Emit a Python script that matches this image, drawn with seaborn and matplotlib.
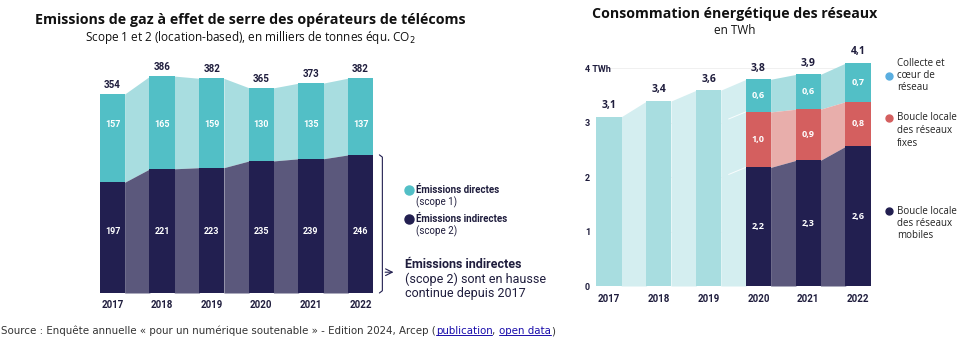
import matplotlib
matplotlib.use("Agg")
import matplotlib.pyplot as plt
from matplotlib.lines import Line2D
import seaborn as sns
import pandas as pd

sns.set_theme(style="white")
plt.rcParams["font.family"] = ["Open Sans", "DejaVu Sans"]

# ---- data -------------------------------------------------------------
years = ["2017", "2018", "2019", "2020", "2021", "2022"]

# GHG emissions, thousand tonnes CO2e
ghg_scope2 = [197.0, 221.0, 223.0, 235.0, 238.8, 245.8]
ghg_scope1 = [157.0, 165.0, 159.0, 130.0, 134.6, 136.6]

# Network energy consumption, TWh
energy_total_early = [3.11, 3.40, 3.60]           # 2017-2019, no breakdown
energy_mobile = [None, None, None, 2.18, 2.31, 2.57]
energy_fixed = [None, None, None, 1.02, 0.94, 0.82]
energy_core = [None, None, None, 0.60, 0.64, 0.71]

energy_ticks = [0, 1, 2, 3, 4]
energy_tick_labels = ["0", "1", "2", "3", "4 TWh"]

# ---- colours ----------------------------------------------------------
NAVY = "#221f50"
NAVY_LINK = "#5b587c"
TEAL = "#52bfc6"
TEAL_LIGHT = "#a8dde0"
TEAL_PALE = "#d4eef0"
RED = "#d45f5f"
RED_LINK = "#e8aeab"
BLUE_DOT = "#5aaee0"
TEXT = "#1f1d3d"

W, H = 970, 340
fig = plt.figure(figsize=(W / 100, H / 100), dpi=100)
fig.patch.set_facecolor("white")


def add_axes_px(left, top, right, bottom):
    return fig.add_axes([left / W, 1 - bottom / H, (right - left) / W, (bottom - top) / H])


def fx(x):
    return x / W


def fy(y):
    return 1 - y / H


BAR_W = 0.51
SEAM = 0.01  # connectors tuck slightly under the bars to avoid hairline gaps
COND = ["Roboto", "DejaVu Sans"]


def connectors(ax, lower, upper, color):
    """Fill the gap between consecutive bars, joining their edges."""
    for i in range(len(upper) - 1):
        vals = (lower[i], lower[i + 1], upper[i], upper[i + 1])
        if any(v is None for v in vals):
            continue
        xs = [i + BAR_W / 2 - SEAM, i + 1 - BAR_W / 2 + SEAM]
        ax.fill_between(xs, [lower[i], lower[i + 1]], [upper[i], upper[i + 1]],
                        color=color, linewidth=0, zorder=1)


# =======================================================================
# Left: greenhouse-gas emissions
# =======================================================================
axl = add_axes_px(82.7, 68.2, 390.3, 293)
ghg_total = [a + b for a, b in zip(ghg_scope1, ghg_scope2)]
df_ghg = pd.DataFrame({"year": years, "total": ghg_total, "scope2": ghg_scope2})

sns.barplot(data=df_ghg, x="year", y="total", order=years, color=TEAL,
            width=BAR_W, saturation=1, linewidth=0, ax=axl, zorder=2)
sns.barplot(data=df_ghg, x="year", y="scope2", order=years, color=NAVY,
            width=BAR_W, saturation=1, linewidth=0, ax=axl, zorder=3)

connectors(axl, ghg_scope2, ghg_total, TEAL_LIGHT)
connectors(axl, [0] * 6, ghg_scope2, NAVY_LINK)

axl.set_xlim(-0.6, 5.6)
axl.set_ylim(0, 400)
for i in range(len(years)):
    axl.annotate(f"{ghg_total[i]:.0f}", (i, ghg_total[i]), xytext=(0, 6.5),
                 textcoords="offset points", ha="center", va="center",
                 fontsize=7, fontweight="bold", color=TEXT, family=COND)
    axl.text(i, 299, f"{ghg_scope1[i]:.0f}", ha="center", va="center",
             fontsize=6.5, fontweight="bold", color="white", family=COND, zorder=5)
    axl.text(i, 110, f"{ghg_scope2[i]:.0f}", ha="center", va="center",
             fontsize=6.5, fontweight="bold", color="white", family=COND, zorder=5)

axl.set_xlabel("")
axl.set_ylabel("")
axl.set_yticks([])
axl.set_xticks(range(len(years)))
axl.set_xticklabels(years, fontsize=7, fontweight="bold", color=TEXT, family=COND)
axl.tick_params(axis="x", length=0, pad=5)
sns.despine(ax=axl, left=True, bottom=True)

# bracket over the scope-2 range with an arrow to the comment
bx, hook = 5.44, 0.06
top2 = ghg_scope2[-1]
axl.plot([bx - hook, bx, bx, bx - hook], [top2, top2 - 4, 4, 0],
         color=NAVY, lw=0.8, clip_on=False, solid_capstyle="round")
axl.annotate("", xy=(5.72, 37), xytext=(bx, 37), xycoords="data",
             arrowprops=dict(arrowstyle="->", color=NAVY, lw=0.8), annotation_clip=False)

fig.text(fx(250), fy(20), "Emissions de gaz à effet de serre des opérateurs de télécoms",
         ha="center", va="center", fontsize=10.3, fontweight="bold", color="#111111")
fig.text(fx(250), fy(37), "Scope 1 et 2 (location-based), en milliers de tonnes équ. CO$_2$",
         ha="center", va="center", fontsize=8.5, color="#111111")

# legend
leg_items = [(TEAL, "Émissions directes", "(scope 1)", 190),
             (NAVY, "Émissions indirectes", "(scope 2)", 219)]
for col, l1, l2, y in leg_items:
    fig.add_artist(Line2D([fx(409)], [fy(y)], marker="o", markersize=6.5,
                          color=col, linestyle="none"))
    fig.text(fx(416), fy(y), l1, ha="left", va="center", fontsize=7,
             fontweight="bold", color=TEXT, family=COND)
    fig.text(fx(416), fy(y + 12), l2, ha="left", va="center", fontsize=7,
             color=TEXT, family=COND)

fig.text(fx(405), fy(264), "Émissions indirectes", ha="left", va="center",
         fontsize=9, fontweight="bold", color=TEXT, family=COND)
fig.text(fx(405), fy(279), "(scope 2) sont en hausse", ha="left", va="center",
         fontsize=9, color=TEXT, family=COND)
fig.text(fx(405), fy(293), "continue depuis 2017", ha="left", va="center",
         fontsize=9, color=TEXT, family=COND)

# =======================================================================
# Right: network energy consumption
# =======================================================================
axr = add_axes_px(579.1, 41.2, 887.9, 286)

split_low = [None] * 3 + [m for m in energy_mobile[3:]]
split_mid = [None] * 3 + [m + f for m, f in zip(energy_mobile[3:], energy_fixed[3:])]
energy_total = energy_total_early + [m + f + c for m, f, c in
                                     zip(energy_mobile[3:], energy_fixed[3:], energy_core[3:])]

df_en = pd.DataFrame({"year": years, "total": energy_total,
                      "mid": [v if v is not None else 0 for v in split_mid],
                      "low": [v if v is not None else 0 for v in split_low]})
top_colors = {y: (TEAL_LIGHT if k < 3 else TEAL) for k, y in enumerate(years)}

sns.barplot(data=df_en, x="year", y="total", order=years, hue="year",
            palette=top_colors, legend=False, width=BAR_W, saturation=1,
            linewidth=0, ax=axr, zorder=2)
sns.barplot(data=df_en, x="year", y="mid", order=years, color=RED,
            width=BAR_W, saturation=1, linewidth=0, ax=axr, zorder=3)
sns.barplot(data=df_en, x="year", y="low", order=years, color=NAVY,
            width=BAR_W, saturation=1, linewidth=0, ax=axr, zorder=4)

# connectors: pale where there is no breakdown, layered afterwards
for i in range(len(years) - 1):
    xs = [i + BAR_W / 2 - SEAM, i + 1 - BAR_W / 2 + SEAM]
    if split_low[i] is None:
        axr.fill_between(xs, [0, 0], [energy_total[i], energy_total[i + 1]],
                         color=TEAL_PALE, linewidth=0, zorder=1)
connectors(axr, split_mid, energy_total, TEAL_LIGHT)
connectors(axr, split_low, split_mid, RED_LINK)
connectors(axr, [0] * 6, split_low, NAVY_LINK)

# faint guide strokes leading into the first split bar
gx0 = 2 + BAR_W / 2 + 0.3 * (1 - BAR_W)
gx1 = 3 - BAR_W / 2
for level in (split_low[3], split_mid[3]):
    axr.plot([gx0, gx1], [level - 0.13, level], color="white", lw=0.7,
             alpha=0.85, zorder=2)

# light horizontal guides, only across the bar area
axr.hlines([t for t in energy_ticks if t > 0], -0.2, 5, color="#eeeeee",
           lw=0.6, zorder=0)

axr.set_xlim(-0.6, 5.6)
axr.set_ylim(0, 4.5)


def fmt(v):
    return f"{v:.1f}".replace(".", ",")


for i in range(len(years)):
    axr.annotate(fmt(energy_total[i]), (i, energy_total[i]), xytext=(0, 8),
                 textcoords="offset points", ha="center", va="center",
                 fontsize=7.5, fontweight="bold", color=TEXT)
    if split_low[i] is not None:
        axr.text(i, split_low[i] / 2, fmt(energy_mobile[i]), ha="center", va="center",
                 fontsize=6.5, fontweight="bold", color="white", zorder=6)
        axr.text(i, (split_low[i] + split_mid[i]) / 2, fmt(energy_fixed[i]),
                 ha="center", va="center", fontsize=6.5, fontweight="bold",
                 color="white", zorder=6)
        axr.text(i, (split_mid[i] + energy_total[i]) / 2, fmt(energy_core[i]),
                 ha="center", va="center", fontsize=6.5, fontweight="bold",
                 color="white", zorder=6)

axr.set_xlabel("")
axr.set_ylabel("")
axr.set_xticks(range(len(years)))
axr.set_xticklabels(years, fontsize=7, fontweight="bold", color=TEXT, family=COND)
axr.tick_params(axis="x", length=0, pad=6)
axr.set_yticks(energy_ticks)
axr.set_yticklabels(energy_tick_labels, fontsize=6.5, fontweight="bold",
                    color=TEXT, family=COND)
axr.tick_params(axis="y", length=0, pad=-4.3)
for lab in axr.get_yticklabels():
    lab.set_horizontalalignment("left")
axr.grid(False)
sns.despine(ax=axr, left=True, bottom=True)

fig.text(fx(735), fy(14), "Consommation énergétique des réseaux", ha="center",
         va="center", fontsize=10.2, fontweight="bold", color="#111111")
fig.text(fx(735), fy(30), "en TWh", ha="center", va="center", fontsize=8.5,
         color="#111111")

r_leg = [(BLUE_DOT, ["Collecte et", "cœur de", "réseau"], 63, 76),
         (RED, ["Boucle locale", "des réseaux", "fixes"], 118, 118),
         (NAVY, ["Boucle locale", "des réseaux", "mobiles"], 211, 211)]
for col, lines, ytxt, ydot in r_leg:
    fig.add_artist(Line2D([fx(889)], [fy(ydot)], marker="o", markersize=5,
                          color=col, linestyle="none"))
    for k, line in enumerate(lines):
        fig.text(fx(897), fy(ytxt + 12.5 * k), line, ha="left", va="center",
                 fontsize=7, color="#222222")

# =======================================================================
# Source line with underlined links
# =======================================================================
pieces = [("Source : Enquête annuelle « pour un numérique soutenable » - Edition 2024, Arcep (", "#333333", False),
          ("publication", "#1a0dab", True),
          (", ", "#333333", False),
          ("open data", "#1a0dab", True),
          (")", "#333333", False)]
renderer = fig.canvas.get_renderer()
x_cursor = 1
for txt, col, link in pieces:
    t = fig.text(fx(x_cursor), fy(331), txt, ha="left", va="center",
                 fontsize=7.4, color=col, family=["DejaVu Sans"])
    bb = t.get_window_extent(renderer=renderer)
    if link:
        uy = bb.y0 + 1
        fig.add_artist(Line2D([bb.x0 / W, bb.x1 / W], [uy / H, uy / H],
                              color=col, lw=0.7))
    x_cursor = bb.x1

fig.savefig("out.png", dpi=100, facecolor="white")
